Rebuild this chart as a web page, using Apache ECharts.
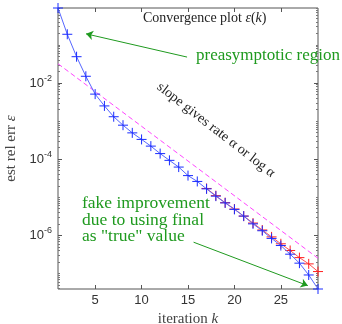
<!DOCTYPE html>
<html><head><meta charset="utf-8">
<script src="https://cdn.jsdelivr.net/npm/echarts@6/dist/echarts.min.js"></script>
<style>html,body{margin:0;padding:0;background:#fff}#c{width:342px;height:324px}</style>
</head><body><div id="c"></div>
<script>
// ---- data ----
const iterations = [1,2,3,4,5,6,7,8,9,10,11,12,13,14,15,16,17,18,19,20,21,22,23,24,25,26,27,28,29];
const estRelErr = [9.3e-1,1.9e-1,4.9e-2,1.5e-2,5.1e-3,2.5e-3,1.3e-3,7.8e-4,4.9e-4,3.3e-4,2.2e-4,1.4e-4,9.3e-5,6.2e-5,3.7e-5,2.6e-5,1.66e-5,1.07e-5,7.1e-6,4.8e-6,3.2e-6,2.0e-6,1.32e-6,8.3e-7,5.4e-7,3.2e-7,1.86e-7,9.1e-8,3.9e-8];
const trueIter = [17,18,19,20,21,22,23,24,25,26,27,28,29];
const trueRelErr = [1.7e-5,1.1e-5,7.2e-6,4.9e-6,3.2e-6,2.1e-6,1.38e-6,9.1e-7,6.0e-7,4.0e-7,2.6e-7,1.78e-7,1.12e-7];
const slopeIter = [1,29];
const slopeErr = [3.2e-2,2.5e-7];
const xTicks = [5,10,15,20,25];
const yTicks = [1e-6,1e-4,1e-2];
const yRange = [3.9e-8, 0.93];

// minor log ticks
const yMinor = [];
for (let e = -8; e <= 0; e++) for (let m = 1; m <= 9; m++) {
  const v = m * Math.pow(10, e);
  if (v >= yRange[0] && v <= yRange[1] && !(m === 1 && e % 2 === 0)) yMinor.push(v);
}

const plus = 'path://M0,5L10,5M5,0L5,10';
const serif = 'Liberation Serif';
const sans = 'Liberation Sans';
const green = '#1f9a1f';

function pairs(xs, ys){ return xs.map((x,i)=>[x, ys[i]]); }

function yAxisBase(extra){
  return Object.assign({
    type:'log', min:yRange[0], max:yRange[1], gridIndex:0,
    axisLine:{show:false}, splitLine:{show:false}, minorTick:{show:false},
    axisLabel:{show:false}, axisTick:{show:false}
  }, extra);
}

const option = {
  animation:false,
  grid:{left:58,right:24,top:8,bottom:35,show:true,borderColor:'#555',borderWidth:1,
        containLabel:false,outerBoundsMode:'none'},
  xAxis:[
    {type:'value',min:1,max:29,position:'bottom',
     axisLine:{show:false},splitLine:{show:false},
     axisTick:{show:true,inside:true,length:4,customValues:xTicks,lineStyle:{color:'#555'}},
     axisLabel:{show:true,customValues:xTicks,fontFamily:sans,fontSize:13,color:'#333',margin:5},
     name:'iteration {i|k}',nameLocation:'middle',nameGap:22,
     nameTextStyle:{fontFamily:serif,fontSize:15,color:'#444',
       rich:{i:{fontFamily:serif,fontSize:15,fontStyle:'italic',color:'#444'}}}},
    {type:'value',min:1,max:29,position:'top',
     axisLine:{show:false},splitLine:{show:false},
     axisTick:{show:true,inside:true,length:4,customValues:xTicks,lineStyle:{color:'#555'}},
     axisLabel:{show:false}}
  ],
  yAxis:[
    yAxisBase({position:'left',
      axisTick:{show:true,inside:true,length:4,customValues:yTicks,lineStyle:{color:'#555'}},
      axisLabel:{show:true,customValues:yTicks,fontFamily:sans,fontSize:13,color:'#333',margin:6,
        formatter:v=>'10{s|'+Math.round(Math.log10(v))+'}',
        rich:{s:{fontFamily:sans,fontSize:9,color:'#333',padding:[0,0,9,0]}}},
      name:'est rel err {i|ε}',nameLocation:'middle',nameGap:38,nameRotate:90,
      nameTextStyle:{fontFamily:serif,fontSize:15,color:'#444',
        rich:{i:{fontFamily:serif,fontSize:15,fontStyle:'italic',color:'#444'}}}}),
    yAxisBase({position:'right',
      axisTick:{show:true,inside:true,length:4,customValues:yTicks,lineStyle:{color:'#555'}}}),
    yAxisBase({position:'left',
      axisTick:{show:true,inside:true,length:2,customValues:yMinor,lineStyle:{color:'#777'}}}),
    yAxisBase({position:'right',
      axisTick:{show:true,inside:true,length:2,customValues:yMinor,lineStyle:{color:'#777'}}})
  ],
  series:[
    {type:'line',data:pairs(slopeIter,slopeErr),showSymbol:false,symbol:'none',silent:true,
     lineStyle:{color:'#ff44ff',width:1,type:[5,3]},z:2},
    {type:'line',data:pairs(trueIter,trueRelErr),symbol:plus,symbolSize:10,
     itemStyle:{color:'#ff2020',borderColor:'#ff2020',borderWidth:1},
     lineStyle:{color:'#ff5050',width:1},z:3},
    {type:'line',data:pairs(iterations,estRelErr),symbol:plus,symbolSize:10,
     itemStyle:{color:'#1a2cff',borderColor:'#1a2cff',borderWidth:1},
     lineStyle:{color:'#5566ff',width:1},z:4,
     markLine:{silent:true,symbol:['none','arrow'],symbolSize:7,label:{show:false},
       lineStyle:{color:green,width:1,type:'solid'},
       data:[
         [{coord:[14.9,Math.pow(10,-1.32)]},{coord:[4.02,Math.pow(10,-0.71)]}],
         [{coord:[15.6,Math.pow(10,-6.18)]},{coord:[27.9,Math.pow(10,-7.32)]}]
       ]}}
  ],
  graphic:[
    {type:'text',left:143,top:11,z:10,style:{text:'Convergence plot {i|ε}({i|k})',fontFamily:serif,fontSize:14,fill:'#222',
      rich:{i:{fontFamily:serif,fontStyle:'italic',fontSize:14,fill:'#222'}}}},
    {type:'text',x:196,y:56,z:10,style:{text:'preasymptotic region',fontFamily:serif,fontSize:17,fill:green,verticalAlign:'middle'}},
    {type:'text',x:82,y:195,z:10,style:{text:'fake improvement\ndue to using final\nas "true" value',fontFamily:serif,fontSize:17.5,lineHeight:16.7,fill:green}},
    {type:'text',x:216,y:130,rotation:-0.66,z:10,style:{text:'slope gives rate α or log α',fontFamily:serif,fontSize:14,fill:'#222',align:'center',verticalAlign:'middle'}}
  ]
};
const chart = echarts.init(document.getElementById('c'));
chart.setOption(option);
</script></body></html>
